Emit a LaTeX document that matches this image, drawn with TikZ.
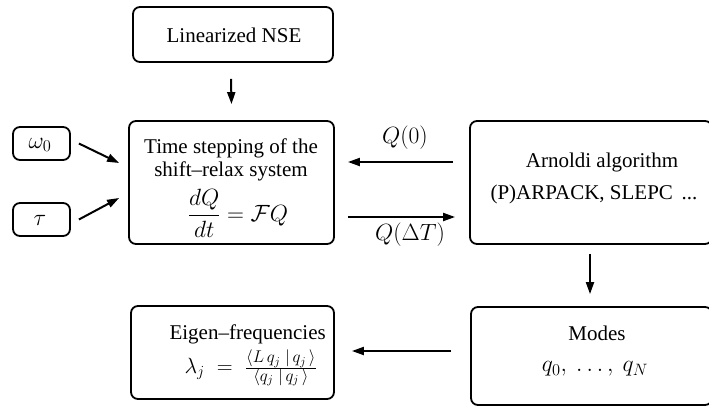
\documentclass[tikz,border=0pt]{standalone}
\usepackage{fix-cm}
\usepackage{fontspec}
\setmainfont{Liberation Serif}
\usetikzlibrary{arrows.meta,calc}
\newcommand{\fracpart}[1]{\mbox{\fontsize{17}{19}\selectfont$#1$}}
\begin{document}
\begin{tikzpicture}[x=1pt,y=-1pt,
  box/.style={draw, line width=1.8pt, rounded corners=7pt, inner sep=0pt},
  txt/.style={font=\fontsize{21}{24}\selectfont, inner sep=0pt},
  mth/.style={font=\fontsize{23.5}{27}\selectfont, inner sep=0pt},
  fmth/.style={font=\fontsize{22}{26}\selectfont, inner sep=0pt},
  arr/.style={line width=2pt, -{Triangle[length=12pt,width=8pt]}}]
\useasboundingbox (0,0) rectangle (709,407);
% boxes
\node[box, minimum width=200pt, minimum height=55pt] (nse) at (233,34.5) {};
\node[box, minimum width=205pt, minimum height=123pt] (time) at (231.5,182.5) {};
\node[box, minimum width=57pt, minimum height=33pt] (w) at (41.5,143.5) {};
\node[box, minimum width=57pt, minimum height=33pt] (tau) at (41.5,219.5) {};
\node[box, minimum width=242pt, minimum height=123pt] (arn) at (591,182.5) {};
\node[box, minimum width=241pt, minimum height=98pt] (modes) at (591.5,356) {};
\node[box, minimum width=203pt, minimum height=93pt] (eig) at (232.5,352.5) {};
% texts
\node[txt] (nset) at (234,35) {Linearized NSE};
\node[txt, anchor=base] (timet1) at (231,153) {Time stepping of the};
\node[txt, anchor=base] (timet2) at (231,176) {shift--relax system};
\node[mth] (timet3) at (238,213) {$\displaystyle\frac{dQ}{dt}=\mathcal{F}Q$};
\node[mth] (wt) at (40,145) {$\omega_0$};
\node[mth] (taut) at (40,220) {$\tau$};
\node[mth] (q0) at (405,138) {$Q(0)$};
\node[mth] (qdt) at (410,235) {$Q(\Delta T)$};
\node[txt, anchor=base] (arnt1) at (602,167) {Arnoldi algorithm};
\node[txt, anchor=base] (arnt2) at (594,199) {(P)ARPACK, SLEPC\, ...};
\node[txt, anchor=base] (modt1) at (597,340) {Modes};
\node[mth] (modt2) at (595,369) {$q_0,\:\ldots,\:q_N$};
\node[txt, anchor=base east] (eigt1) at (326,339) {Eigen--frequencies};
\node[fmth, anchor=east] (eigt2) at (317,368) {$\lambda_j \;=\; \frac{\fracpart{\langle L\,q_j\;|\,q_j\,\rangle}}{\fracpart{\langle q_j\;|\,q_j\,\rangle}}$};
% arrows
\draw[arr] ($(nse.south)+(-2,16)$) -- ($(time.north)+(0,-16)$);
\draw[arr] ($(w.east)+(8,0)$) -- ($(time.west)+(-9,-19.5)$);
\draw[arr] ($(tau.east)+(8,0)$) -- ($(time.west)+(-9,15.5)$);
\draw[arr] ($(arn.west)+(-16,-20.5)$) -- ($(time.east)+(13,-20.5)$);
\draw[arr] ($(time.east)+(13,34.5)$) -- ($(arn.west)+(-14,34.5)$);
\draw[arr] ($(arn.south)+(-1,9)$) -- ($(modes.north)+(-1.5,-12)$);
\draw[arr] ($(modes.west)+(-19,-5)$) -- ($(eig.east)+(17,-1.5)$);
\end{tikzpicture}
\end{document}
